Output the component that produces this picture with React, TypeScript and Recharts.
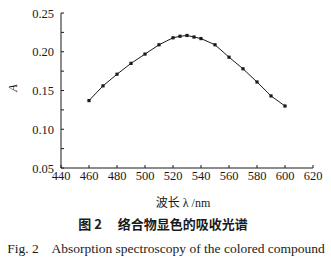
import React from "react";
import { LineChart, Line, XAxis, YAxis } from "recharts";

const wavelengths = [460, 470, 480, 490, 500, 510, 520, 525, 530, 535, 540, 550, 560, 570, 580, 590, 600];
const absorbance = [0.137, 0.156, 0.171, 0.185, 0.197, 0.209, 0.218, 0.22, 0.221, 0.219, 0.217, 0.209, 0.193, 0.178, 0.161, 0.143, 0.13];

const xTicks = [440, 460, 480, 500, 520, 540, 560, 580, 600, 620];
const yTicks = [0.05, 0.075, 0.1, 0.125, 0.15, 0.175, 0.2, 0.225, 0.25];
const yMajor = [0.05, 0.1, 0.15, 0.2, 0.25];

const xLabel = "波长 λ /nm";
const yLabel = "A";
const titleZh = "图 2　 络合物显色的吸收光谱";
const titleEn = "Fig. 2    Absorption spectroscopy of the colored compound";

const data = wavelengths.map((w, i) => ({ w, a: absorbance[i] }));

const serif = "'Liberation Serif', 'DejaVu Serif', serif";
const ink = "#1a1a1a";

const YTick = (props: any) => {
  const { x, y, payload } = props;
  if (!yMajor.some((v) => Math.abs(v - payload.value) < 1e-9)) return <g />;
  return (
    <text x={x} y={y} dy="0.36em" textAnchor="end" fontSize={12.5} fontFamily={serif} fill={ink}>
      {payload.value.toFixed(2)}
    </text>
  );
};

const SquareDot = (props: any) => {
  const { cx, cy, index } = props;
  return <rect key={index} x={cx - 1.6} y={cy - 1.6} width={3.2} height={3.2} fill={ink} />;
};

export default function App() {
  return (
    <div style={{ position: "fixed", left: 0, top: 0, width: 331, height: 258, background: "#fff", overflow: "hidden" }}>
      <LineChart width={331} height={258} data={data} margin={{ top: 13, right: 18, bottom: 0, left: 0 }}>
        <XAxis
          dataKey="w"
          type="number"
          domain={[440, 620]}
          ticks={xTicks}
          height={90}
          tickSize={-3}
          tickMargin={6}
          stroke={ink}
          tick={{ fontSize: 12.5, fontFamily: serif, fill: ink }}
          interval={0}
        />
        <YAxis
          type="number"
          domain={[0.05, 0.25]}
          ticks={yTicks}
          width={61}
          tickSize={-3}
          tickMargin={10}
          stroke={ink}
          tick={<YTick />}
          interval={0}
        />
        <Line
          dataKey="a"
          type="linear"
          stroke={ink}
          strokeWidth={1}
          dot={<SquareDot />}
          activeDot={false}
          isAnimationActive={false}
        />
      </LineChart>
      <div
        style={{
          position: "absolute",
          left: 13,
          top: 88,
          transform: "translate(-50%, -50%) rotate(-90deg)",
          fontFamily: serif,
          fontStyle: "italic",
          fontSize: 12,
          color: ink,
        }}
      >
        {yLabel}
      </div>
      <div
        style={{
          position: "absolute",
          left: 183,
          top: 202,
          transform: "translate(-50%, -50%)",
          fontFamily: "'Liberation Serif', 'Noto Sans CJK SC', serif",
          fontSize: 12,
          color: ink,
          whiteSpace: "nowrap",
        }}
      >
        {xLabel}
      </div>
      <div
        style={{
          position: "absolute",
          left: 163,
          top: 223,
          transform: "translate(-50%, -50%)",
          fontFamily: "'Noto Sans CJK SC', sans-serif",
          fontWeight: 700,
          fontSize: 13,
          color: ink,
          whiteSpace: "pre",
        }}
      >
        {titleZh}
      </div>
      <div
        style={{
          position: "absolute",
          left: 166,
          top: 249,
          transform: "translate(-50%, -50%)",
          fontFamily: serif,
          fontSize: 13.5,
          color: ink,
          whiteSpace: "pre",
        }}
      >
        {titleEn}
      </div>
    </div>
  );
}
